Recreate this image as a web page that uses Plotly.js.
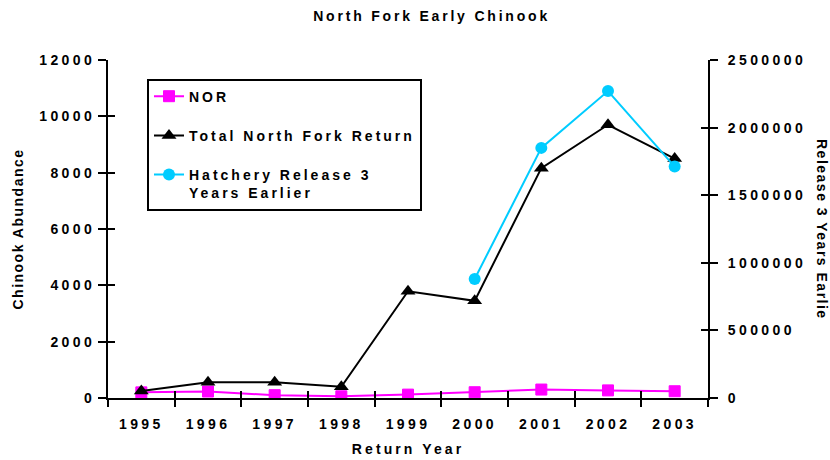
<!DOCTYPE html>
<html>
<head>
<meta charset="utf-8">
<script src="https://cdn.plot.ly/plotly-3.0.1.min.js"></script>
<style>
  html, body { margin: 0; padding: 0; background: #fff; }
  #chart { width: 830px; height: 460px; }
  text { font-weight: bold !important; }
  .xtick text, .ytick text, .y2tick text { letter-spacing: 3.4px; }
  .gtitle { letter-spacing: 2.8px; }
  .legendtext { letter-spacing: 3px; }
  .xtitle { letter-spacing: 3.1px; }
  .ytitle { letter-spacing: 1.5px; }
  .annotation-text { letter-spacing: 1.5px; }
</style>
</head>
<body>
<div id="chart"></div>
<script>
const years = [1995, 1996, 1997, 1998, 1999, 2000, 2001, 2002, 2003];
const yearLabels = ["1995", "1996", "1997", "1998", "1999", "2000", "2001", "2002", "2003"];
const nor = [200, 230, 100, 60, 120, 205, 300, 270, 240];
const totalReturn = [250, 560, 560, 400, 3790, 3450, 8160, 9700, 8500];
const hatchYears = [2000, 2001, 2002, 2003];
const hatcheryRelease = [880000, 1850000, 2270000, 1712000];
const boundaries = [1994.5, 1995.5, 1996.5, 1997.5, 1998.5, 1999.5, 2000.5, 2001.5, 2002.5, 2003.5];

const FONT = "Liberation Sans, Arial, sans-serif";
const tf = {family: FONT, size: 14, color: "#000", weight: 700};

const traces = [
  {x: years, y: nor, name: "NOR", type: "scatter", mode: "lines+markers",
   legendgroup: "a", xaxis: "x", yaxis: "y",
   line: {color: "#FF00FF", width: 2},
   marker: {symbol: "square", size: 11, color: "#FF00FF", line: {color: "#FF00FF", width: 1}}},
  {x: years, y: totalReturn, name: "Total North Fork Return", type: "scatter", mode: "lines+markers",
   legendgroup: "b", xaxis: "x", yaxis: "y",
   line: {color: "#000000", width: 2},
   marker: {symbol: "triangle-up", size: 13, color: "#000000"}},
  {x: hatchYears, y: hatcheryRelease, name: "Hatchery Release 3<br>Years Earlier", type: "scatter", mode: "lines+markers",
   legendgroup: "c", xaxis: "x", yaxis: "y2",
   line: {color: "#00CCFF", width: 2},
   marker: {symbol: "circle", size: 12, color: "#00CCFF"}},
  {x: [], y: [], xaxis: "x2", yaxis: "y", showlegend: false, hoverinfo: "skip", type: "scatter"},
  {x: [], y: [], xaxis: "x3", yaxis: "y3", showlegend: false, hoverinfo: "skip", type: "scatter"},
  {x: [], y: [], xaxis: "x", yaxis: "y4", showlegend: false, hoverinfo: "skip", type: "scatter"}
];

const layout = {
  width: 830, height: 460,
  paper_bgcolor: "#fff", plot_bgcolor: "#fff",
  margin: {l: 108, r: 122, t: 60, b: 62, pad: 0},
  font: {family: FONT, size: 14, color: "#000"},
  title: {text: "North Fork Early Chinook", font: {family: FONT, size: 14, weight: 700, color: "#000"},
          x: 0.52, xref: "container", xanchor: "center", y: 0.965, yref: "container", yanchor: "middle"},
  showlegend: true,
  legend: {x: 0.065, y: 0.945, xanchor: "left", yanchor: "top", bgcolor: "#fff",
           bordercolor: "#000", borderwidth: 2, font: tf, traceorder: "grouped",
           tracegroupgap: 18, valign: "top"},
  xaxis: {range: [1994.5, 2003.5], tickmode: "array", tickvals: years, ticktext: yearLabels,
          ticks: "", showgrid: false, zeroline: false, showline: true, linecolor: "#000", linewidth: 2,
          tickfont: tf, ticklabelstandoff: 12,
          title: {text: "Return Year", font: tf, standoff: 13}},
  xaxis2: {overlaying: "x", anchor: "y", range: [1994.5, 2003.5], tickmode: "array", tickvals: boundaries,
           ticks: "outside", ticklen: 8, tickwidth: 2, tickcolor: "#000", showticklabels: false,
           showgrid: false, zeroline: false, showline: false},
  xaxis3: {overlaying: "x", anchor: "y3", range: [1994.5, 2003.5], tickmode: "array", tickvals: boundaries,
           ticks: "inside", ticklen: 7, tickwidth: 2, tickcolor: "#000", showticklabels: false,
           showgrid: false, zeroline: false, showline: false},
  yaxis: {range: [0, 12000], tickmode: "linear", tick0: 0, dtick: 2000, tickformat: "d",
          ticks: "outside", ticklen: 8, tickwidth: 2, tickcolor: "#000",
          showgrid: false, zeroline: false, showline: true, linecolor: "#000", linewidth: 2,
          tickfont: tf, title: {text: "Chinook Abundance", font: tf, standoff: 12}},
  yaxis3: {overlaying: "y", side: "left", range: [0, 12000], tickmode: "linear", tick0: 0, dtick: 2000,
           ticks: "inside", ticklen: 7, tickwidth: 2, tickcolor: "#000", showticklabels: false,
           showgrid: false, zeroline: false, showline: false},
  yaxis2: {overlaying: "y", side: "right", range: [0, 2500000], tickmode: "linear", tick0: 0, dtick: 500000,
           tickformat: "d", ticks: "outside", ticklen: 8, tickwidth: 2, tickcolor: "#000", ticklabelstandoff: 7,
           showgrid: false, zeroline: false, showline: true, linecolor: "#000", linewidth: 2, tickfont: tf},
  yaxis4: {overlaying: "y", side: "right", range: [0, 2500000], tickmode: "linear", tick0: 0, dtick: 500000,
           ticks: "inside", ticklen: 7, tickwidth: 2, tickcolor: "#000", showticklabels: false,
           showgrid: false, zeroline: false, showline: false},
  annotations: [
    {text: "Release 3 Years Earlie", textangle: 90, xref: "paper", yref: "paper",
     x: 1.19, y: 0.5, xanchor: "center", yanchor: "middle", showarrow: false, font: tf}
  ]
};

Plotly.newPlot("chart", traces, layout, {displayModeBar: false, staticPlot: true});
</script>
</body>
</html>
